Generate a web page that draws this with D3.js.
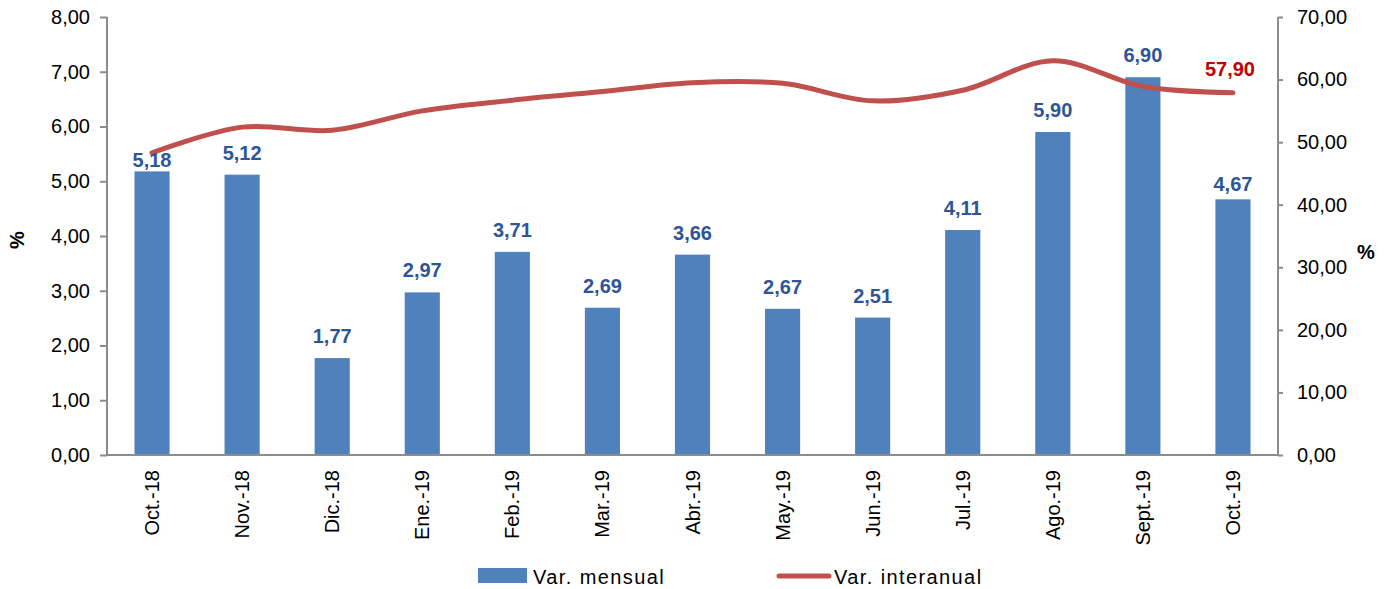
<!DOCTYPE html>
<html><head><meta charset="utf-8">
<script src="https://cdn.jsdelivr.net/npm/d3@7"></script>
<style>body{margin:0;background:#fff}svg{display:block;font-family:"Liberation Sans",Arial,sans-serif}</style>
</head><body><svg id="c" width="1385" height="589"></svg>
<script>
const categories = ["Oct.-18","Nov.-18","Dic.-18","Ene.-19","Feb.-19","Mar.-19","Abr.-19","May.-19","Jun.-19","Jul.-19","Ago.-19","Sept.-19","Oct.-19"];
const mensual = [5.18,5.12,1.77,2.97,3.71,2.69,3.66,2.67,2.51,4.11,5.90,6.90,4.67];
const interanual = [48.3,52.4,51.9,55.0,56.7,58.1,59.5,59.4,56.6,58.3,63.0,58.9,57.90];
const leftTicks = [0,1,2,3,4,5,6,7,8];
const rightTicks = [0,10,20,30,40,50,60,70];
const seriesNames = ["Var. mensual","Var. interanual"];

const svg = d3.select("#c");
const L = 107, R = 1278, T = 17, B = 455;
const fmt = v => d3.format(".2f")(v).replace(".", ",");
const x = d3.scaleBand().domain(categories).range([L, R]).paddingInner(0.61).paddingOuter(0.305);
const yL = d3.scaleLinear().domain([0, 8]).range([B, T]);
const yR = d3.scaleLinear().domain([0, 70]).range([B, T]);
const axisColor = "#8c8c8c";

// bars
svg.append("g").selectAll("rect").data(mensual).join("rect")
  .attr("x", (d,i) => x(categories[i]))
  .attr("y", d => yL(d))
  .attr("width", x.bandwidth())
  .attr("height", d => B - yL(d))
  .attr("fill", "#4F81BD");

// axes
const gl = svg.append("g").attr("transform", `translate(${L},0)`)
  .call(d3.axisLeft(yL).tickValues(leftTicks).tickFormat(fmt).tickSize(7).tickPadding(10));
const gr = svg.append("g").attr("transform", `translate(${R},0)`)
  .call(d3.axisRight(yR).tickValues(rightTicks).tickFormat(fmt).tickSize(5).tickPadding(14));
const gb = svg.append("g").attr("transform", `translate(0,${B})`)
  .call(d3.axisBottom(x).tickSize(0).tickPadding(0));
[gl, gr, gb].forEach(g => {
  g.select(".domain").attr("stroke", axisColor).attr("stroke-width", 2);
  g.selectAll(".tick line").attr("stroke", axisColor).attr("stroke-width", 2);
  g.selectAll("text").attr("fill", "#000").attr("font-size", 20).attr("font-family", "Liberation Sans, Arial, sans-serif");
});
gl.select(".domain").attr("d", `M0,${T}V${B}`);
gr.select(".domain").attr("d", `M0,${T}V${B}`);
gb.select(".domain").attr("d", `M${L},0H${R}`);
gb.selectAll(".tick text")
  .attr("transform", "rotate(-90)")
  .attr("text-anchor", "end")
  .attr("dx", "-15")
  .attr("dy", "0.35em")
  .attr("x", 0).attr("y", 0);

// line
const line = d3.line().x((d,i) => x(categories[i]) + x.bandwidth()/2).y(d => yR(d)).curve(d3.curveCatmullRom.alpha(0.5));
svg.append("path").datum(interanual).attr("d", line)
  .attr("fill", "none").attr("stroke", "#C0504D").attr("stroke-width", 5).attr("stroke-linecap", "round");

// bar labels
svg.append("g").selectAll("text").data(mensual).join("text")
  .attr("x", (d,i) => x(categories[i]) + x.bandwidth()/2)
  .attr("y", (d,i) => yL(d) - (i === 0 ? 4 : i === mensual.length - 1 ? 8 : 15))
  .attr("text-anchor", "middle")
  .attr("font-size", 20).attr("font-weight", "bold").attr("fill", "#2E5597")
  .text(d => fmt(d));

// last line label
const li = interanual.length - 1;
svg.append("text")
  .attr("x", x(categories[li]) + x.bandwidth()/2 - 3)
  .attr("y", yR(interanual[li]) - 17)
  .attr("text-anchor", "middle")
  .attr("font-size", 20).attr("font-weight", "bold").attr("fill", "#C00000")
  .text(fmt(interanual[li]));

// axis titles
svg.append("text").attr("transform", "translate(24,240) rotate(-90)")
  .attr("text-anchor", "middle").attr("font-size", 20).attr("font-weight", "bold").text("%");
svg.append("text").attr("x", 1366).attr("y", 259)
  .attr("text-anchor", "middle").attr("font-size", 20).attr("font-weight", "bold").text("%");

// legend
const lg = svg.append("g");
lg.append("rect").attr("x", 478).attr("y", 568).attr("width", 49).attr("height", 15).attr("fill", "#4F81BD");
lg.append("text").attr("x", 533).attr("y", 584).attr("font-size", 20).attr("letter-spacing", 1.4).text(seriesNames[0]);
lg.append("line").attr("x1", 779).attr("x2", 829).attr("y1", 576).attr("y2", 576)
  .attr("stroke", "#C0504D").attr("stroke-width", 5).attr("stroke-linecap", "round");
lg.append("text").attr("x", 834).attr("y", 584).attr("font-size", 20).attr("letter-spacing", 1.4).text(seriesNames[1]);
</script></body></html>
